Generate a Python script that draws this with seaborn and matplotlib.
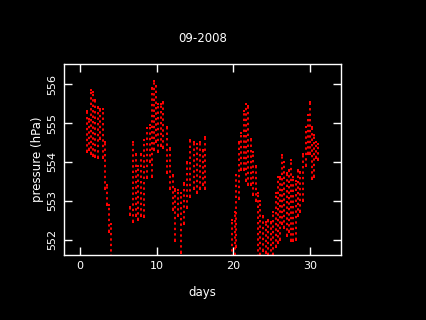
import matplotlib
matplotlib.use("Agg")
import matplotlib.pyplot as plt
import seaborn as sns
import pandas as pd

# Column-wise envelope of the pressure samples
days = [0.85, 1.15, 1.45, 1.75, 2.0, 2.35, 2.65, 2.95, 3.25, 3.5, 3.75, 4.0,
        6.5, 6.95, 7.3, 7.6, 7.9, 8.3, 8.7, 9.1, 9.35, 9.7, 9.95, 10.2, 10.5, 10.8,
        11.3, 11.7, 12.1, 12.4, 12.8, 13.2, 13.6, 14.0, 14.4, 14.8, 15.2, 15.6,
        16.0, 16.3,
        19.85, 20.2, 20.4, 20.7, 21.0, 21.35, 21.65, 21.95, 22.3, 22.6, 22.9,
        23.2, 23.5, 23.85, 24.2, 24.55, 24.9, 25.2, 25.5, 25.75, 26.05, 26.35,
        26.65, 26.95, 27.25, 27.5, 27.8, 28.1, 28.4, 28.7, 29.05, 29.4, 29.7,
        29.95, 30.25, 30.5, 30.8, 31.0]
p_low = [554.25, 554.3, 554.2, 554.15, 554.12, 554.1, 554.6, 554.1, 553.3, 552.9, 552.2, 551.55,
         552.62, 552.44, 552.6, 552.5, 552.6, 552.57, 553.58, 554.0, 553.6, 554.3, 554.5, 554.25, 554.4, 554.35,
         553.7, 553.3, 552.75, 551.95, 552.6, 551.65, 552.4, 552.8, 553.1, 553.3, 553.2, 553.3,
         553.4, 553.3,
         551.55, 551.6, 551.8, 553.05, 553.8, 553.8, 553.5, 553.4, 553.4, 553.15, 553.0,
         551.55, 551.6, 551.7, 551.65, 551.6, 551.55, 551.6, 551.8, 551.9, 552.0, 552.4,
         552.3, 552.1, 552.2, 551.95, 551.95, 552.0, 552.6, 552.7, 553.0, 553.9, 554.2,
         554.2, 553.55, 553.6, 554.1, 554.05]
p_high = [555.3, 555.1, 555.85, 555.8, 555.6, 555.4, 555.35, 555.35, 554.5, 553.4, 552.9, 552.4,
          552.83, 554.5, 554.2, 553.9, 554.2, 554.56, 554.87, 554.95, 555.9, 556.08, 555.95, 555.5, 555.5, 555.55,
          554.9, 554.35, 553.65, 553.3, 553.27, 553.2, 553.45, 554.0, 554.55, 554.5, 554.45, 554.5,
          554.3, 554.63,
          552.5, 552.7, 553.65, 554.5, 554.75, 555.3, 555.5, 555.45, 554.6, 554.25, 553.9,
          553.2, 553.0, 552.6, 552.45, 552.5, 552.45, 552.7, 553.2, 553.6, 553.6, 554.17,
          554.0, 553.7, 553.8, 554.05, 553.6, 553.5, 553.8, 553.75, 554.2, 554.9, 555.2,
          555.55, 554.9, 554.7, 554.5, 554.45]

x_ticks = [0, 10, 20, 30]
y_ticks = [552, 553, 554, 555, 556]
title_text = "09-2008"
x_label = "days"
y_label = "pressure (hPa)"

sns.set_theme(style="dark")
plt.rcParams["font.family"] = ["DejaVu Sans"]

env = pd.DataFrame({"day": days, "lo": p_low, "hi": p_high})
pts = pd.concat([env[["day", "lo"]].rename(columns={"lo": "p"}),
                 env[["day", "hi"]].rename(columns={"hi": "p"})])

fig = plt.figure(figsize=(4.26, 3.2), dpi=100, facecolor="black")
ax = fig.add_axes([0.150, 0.203, 0.650, 0.597])
ax.set_facecolor("black")

ax.vlines(env["day"], env["lo"], env["hi"], colors="#ff0000",
          linewidth=1.4, linestyles=(0, (1.2, 1.6)))
sns.scatterplot(data=pts, x="day", y="p", marker="s", s=4, color="#ff0000",
                linewidth=0, ax=ax)

ax.set_xlim(-2.1, 34)
ax.set_ylim(551.6, 556.52)
ax.set_xticks(x_ticks)
ax.set_xticklabels([str(t) for t in x_ticks])
ax.set_yticks(y_ticks)
ax.set_yticklabels([str(t) for t in y_ticks], rotation=90, va="center")
ax.grid(False)

ax.tick_params(direction="in", length=6, width=1, colors="white",
               top=True, right=True, bottom=True, left=True,
               labelsize=8)
ax.tick_params(axis="x", pad=4)
ax.tick_params(axis="y", pad=5)
for s in ax.spines.values():
    s.set_color("white")
    s.set_linewidth(1)
    s.set_visible(True)

ax.set_title(title_text, color="white", fontsize=8.5, pad=16)
ax.set_xlabel(x_label, color="white", fontsize=8.5, labelpad=11)
ax.set_ylabel(y_label, color="white", fontsize=8.5, labelpad=2)

fig.savefig("out.png", dpi=100, facecolor="black")
